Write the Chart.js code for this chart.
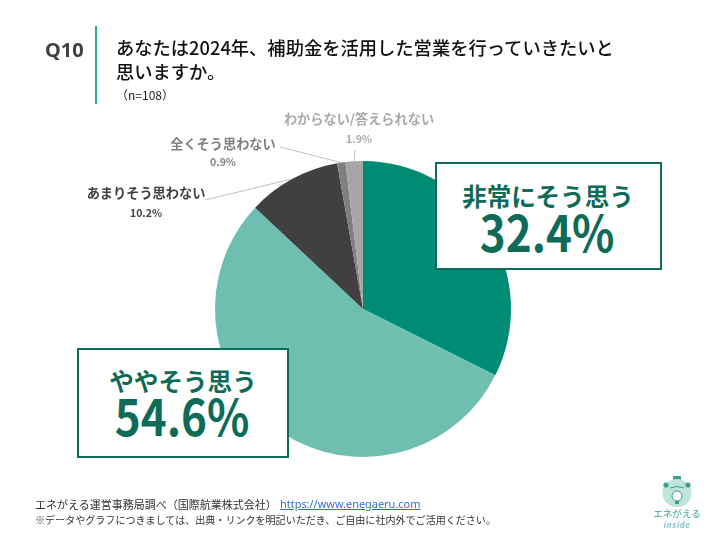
<!DOCTYPE html>
<html lang="ja">
<head>
<meta charset="utf-8">
<script src="https://cdn.jsdelivr.net/npm/chart.js@4"></script>
<style>
html,body{margin:0;padding:0;background:#fff;width:720px;height:540px;overflow:hidden}
body{position:relative;font-family:"Noto Sans CJK JP","Noto Sans",sans-serif}
canvas{position:absolute;left:0;top:0}
.t{position:absolute;white-space:nowrap;line-height:1}
.c{transform:translateX(-50%);text-align:center}
.box{position:absolute;background:#fff;border:2px solid #0f6b58;box-sizing:border-box}
.big{color:#0f6b58;font-weight:700}
.num{color:#0f6b58;font-weight:700;transform:translateX(-50%) scaleX(.88)}
</style>
</head>
<body>
<canvas id="c" width="720" height="540" style="width:720px;height:540px"></canvas>
<div style="position:absolute;left:95px;top:26px;width:2px;height:78px;background:#2fa893"></div>
<div class="t" style="left:45px;top:40px;font-size:20px;font-weight:700;color:#404040;font-family:'Noto Sans','Noto Sans CJK JP'">Q10</div>
<div class="t" id="title1" style="left:116px;top:38px;font-size:18.3px;font-weight:500;color:#111"></div>
<div class="t" id="title2" style="left:116px;top:62px;font-size:18.3px;font-weight:500;color:#111"></div>
<div class="t" id="nlabel" style="left:116px;top:89px;font-size:12px;color:#222"></div>

<div id="labels"></div>

<div class="box" style="left:435px;top:162px;width:227px;height:108px"></div>
<div class="t c big" id="h1" style="left:548px;top:183px;font-size:24.6px"></div>
<div class="t c num" id="p1" style="left:547px;top:205px;font-size:50px"></div>
<div class="box" style="left:77px;top:348px;width:212px;height:110px"></div>
<div class="t c big" id="h2" style="left:183px;top:368px;font-size:24.6px"></div>
<div class="t c num" id="p2" style="left:182px;top:389px;font-size:50px"></div>

<div class="t" id="src" style="left:35px;top:499px;font-size:11px;color:#333"></div>
<div class="t" id="url" style="left:280px;top:499px;font-size:10.95px;color:#2f6fd0;text-decoration:underline;font-family:'Noto Sans'"></div>
<div class="t" id="note" style="left:35px;top:515px;font-size:10.05px;color:#333"></div>

<svg style="position:absolute;left:657px;top:473px" width="40" height="36" viewBox="0 0 40 36">
  <rect x="16" y="3" width="8" height="5" fill="#3f9f8d"/>
  <ellipse cx="20" cy="20" rx="14.5" ry="14" fill="#bfe4da"/>
  <circle cx="9" cy="12" r="2.6" fill="#3f9f8d"/><circle cx="31" cy="12" r="2.6" fill="#3f9f8d"/>
  <path d="M13 15 Q20 12 27 15" stroke="#3f9f8d" fill="none" stroke-width="1"/>
  <circle cx="20" cy="23" r="5" fill="#fff" stroke="#3f9f8d" stroke-width="1"/>
  <rect x="18" y="28" width="4" height="3" fill="#3f9f8d"/>
</svg>
<div class="t c" id="logo1" style="left:677px;top:509px;font-size:9.6px;font-weight:500;color:#5fb5a6"></div>
<div class="t c" id="logo2" style="left:677px;top:521px;font-size:8.5px;font-weight:700;font-style:italic;color:#8fc6d3;font-family:'Noto Sans';letter-spacing:.5px"></div>

<script>
const categories = ["非常にそう思う","ややそう思う","あまりそう思わない","全くそう思わない","わからない/答えられない"];
const values = [32.4,54.6,10.2,0.9,1.9];
const colors = ["#008b74","#6fbfb0","#404040","#7f7f7f","#a6a6a6"];
const titleLines = ["あなたは2024年、補助金を活用した営業を行っていきたいと","思いますか。"];
const sampleLabel = "（n=108）";
const sourceText = "エネがえる運営事務局調べ（国際航業株式会社）";
const sourceUrl = "https://www.enegaeru.com";
const noteText = "※データやグラフにつきましては、出典・リンクを明記いただき、ご自由に社内外でご活用ください。";
const logoTexts = ["エネがえる","inside"];

const pct = v => v.toFixed(1) + "%";
const set = (id, s) => document.getElementById(id).textContent = s;
set("title1", titleLines[0]); set("title2", titleLines[1]); set("nlabel", sampleLabel);
set("src", sourceText); set("url", sourceUrl); set("note", noteText);
set("logo1", logoTexts[0]); set("logo2", logoTexts[1]);
set("h1", categories[0]); set("p1", pct(values[0]));
set("h2", categories[1]); set("p2", pct(values[1]));

// small outside labels: [slice index, centre x, name y, value y, colour]
const outside = [
  [2, 146, 186, 208, "#404040"],
  [3, 223, 137, 157, "#7f7f7f"],
  [4, 359, 112, 134, "#a9a9a9"]
];
const host = document.getElementById("labels");
outside.forEach(([i, x, y1, y2, col]) => {
  host.insertAdjacentHTML("beforeend",
    `<div class="t c" style="left:${x}px;top:${y1}px;font-size:13.2px;font-weight:700;color:${col}">${categories[i]}</div>` +
    `<div class="t c" style="left:${x}px;top:${y2}px;font-size:10.5px;font-weight:700;color:${col}">${pct(values[i])}</div>`);
});

// leader lines run from a label anchor to the slice's own outer edge
const leaderAnchors = { 2: [205, 200], 3: [280, 147], 4: [355, 150] };
const leaders = {
  id: "leaders",
  afterDatasetsDraw(chart) {
    const { ctx } = chart;
    ctx.save();
    ctx.strokeStyle = "#bfbfbf";
    ctx.lineWidth = 1;
    chart.getDatasetMeta(0).data.forEach((arc, i) => {
      const a = leaderAnchors[i];
      if (!a) return;
      const mid = (arc.startAngle + arc.endAngle) / 2;
      const r = arc.outerRadius;
      ctx.beginPath();
      ctx.moveTo(a[0], a[1]);
      ctx.lineTo(arc.x + Math.cos(mid) * r, arc.y + Math.sin(mid) * r);
      ctx.stroke();
    });
    ctx.restore();
  }
};

new Chart(document.getElementById("c"), {
  type: "pie",
  data: { labels: categories, datasets: [{ data: values, backgroundColor: colors, borderWidth: 0 }] },
  options: {
    responsive: false,
    animation: false,
    layout: { padding: { left: 215, right: 209, top: 161, bottom: 83 } },
    plugins: { legend: { display: false }, tooltip: { enabled: false } }
  },
  plugins: [leaders]
});
</script>
</body>
</html>
